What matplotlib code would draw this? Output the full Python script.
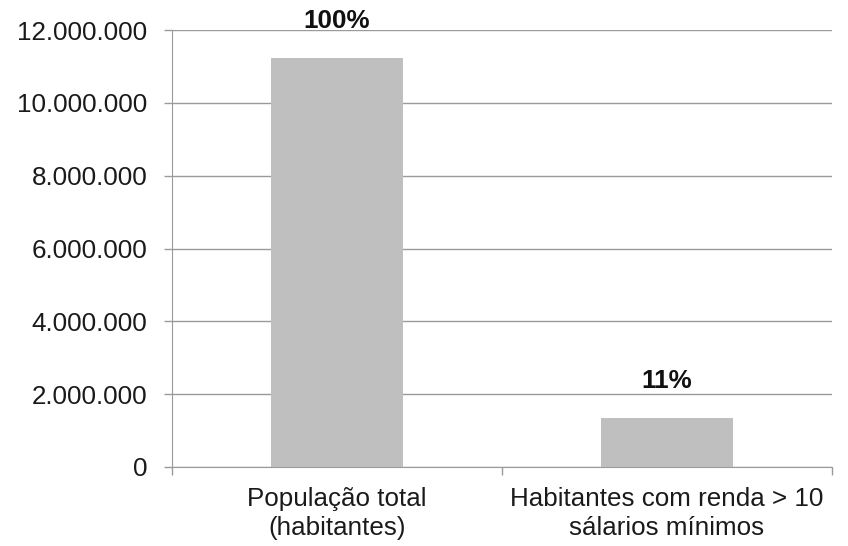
import matplotlib.pyplot as plt
import numpy as np
from matplotlib.ticker import FuncFormatter

plt.rcParams["font.family"] = ["Liberation Sans", "DejaVu Sans"]

categories = ["População total\n(habitantes)", "Habitantes com renda > 10\nsálarios mínimos"]
values = [11240000, 1350000]
pct_labels = ["100%", "11%"]
y_ticks = [0, 2000000, 4000000, 6000000, 8000000, 10000000, 12000000]

fig = plt.figure(figsize=(8.48, 5.46), dpi=100, facecolor="white")
ax = fig.add_axes([0.203, 0.1447, 0.778, 0.8003])

x = np.arange(len(categories))
bars = ax.bar(x, values, width=0.4, color="#bfbfbf", zorder=3)

for b, lab in zip(bars, pct_labels):
    ax.annotate(lab, (b.get_x() + b.get_width() / 2, b.get_height()),
                xytext=(0, 18), textcoords="offset points",
                ha="center", va="bottom", fontsize=18.7, fontweight="bold",
                color="#111111", zorder=5, annotation_clip=False)

ax.set_xlim(-0.5, len(categories) - 0.5)
ax.set_ylim(0, 12000000)
ax.set_yticks(y_ticks)
ax.yaxis.set_major_formatter(FuncFormatter(lambda v, p: f"{int(v):,}".replace(",", ".")))
ax.yaxis.grid(True, color="#9a9a9a", linewidth=1.0, zorder=0)

ax.set_xticks(x)
ax.set_xticklabels(categories, fontsize=18.7, color="#1a1a1a", linespacing=1.25)
ax.set_xticks([-0.5, 0.5, 1.5], minor=True)
ax.tick_params(axis="x", which="major", length=0, pad=14.5)
ax.tick_params(axis="x", which="minor", length=6, color="#9a9a9a", width=1.0, direction="out")
ax.tick_params(axis="y", length=6, color="#9a9a9a", width=1.0, labelsize=18.7,
               labelcolor="#1a1a1a", pad=12)

for s in ["top", "right"]:
    ax.spines[s].set_visible(False)
ax.spines["left"].set_color("#9a9a9a")
ax.spines["bottom"].set_color("#9a9a9a")

fig.savefig("out.png", dpi=100, facecolor="white")
